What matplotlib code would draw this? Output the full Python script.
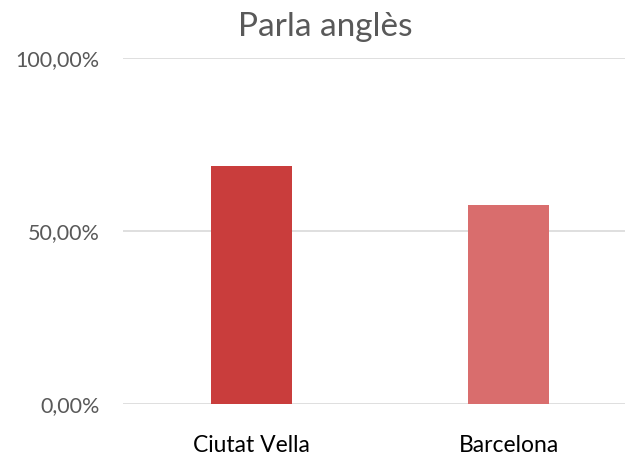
import matplotlib.pyplot as plt
from matplotlib.ticker import FuncFormatter

categories = ['Ciutat Vella', 'Barcelona']
values = [0.688, 0.575]
colors = ['#C93D3C', '#D96D6D']

plt.rcParams['font.family'] = ['Lato', 'DejaVu Sans']

fig = plt.figure(figsize=(6.25, 4.58), dpi=100)
ax = fig.add_axes([0.1968, 0.1179, 0.8224, 0.7555])

x = list(range(len(categories)))
ax.bar(x, values, width=0.315, color=colors, zorder=3)

ax.set_xlim(-0.5, 1.5)
ax.set_ylim(0, 1)
ax.set_yticks([0, 0.5, 1.0])
ax.yaxis.set_major_formatter(FuncFormatter(lambda v, p: f'{v * 100:.2f}%'.replace('.', ',')))
ax.set_xticks(x)
ax.set_xticklabels(categories)

ax.grid(axis='y', color='#D9D9D9', linewidth=1.2, zorder=0)
for s in ax.spines.values():
    s.set_visible(False)
ax.tick_params(axis='y', length=0, pad=17, labelsize=15.5, labelcolor='#595959')
ax.tick_params(axis='x', length=0, pad=22, labelsize=16.5, labelcolor='#000000')

fig.text(0.52, 0.94, 'Parla anglès', ha='center', va='center', fontsize=24, color='#595959')

fig.savefig('out.png', dpi=100)
